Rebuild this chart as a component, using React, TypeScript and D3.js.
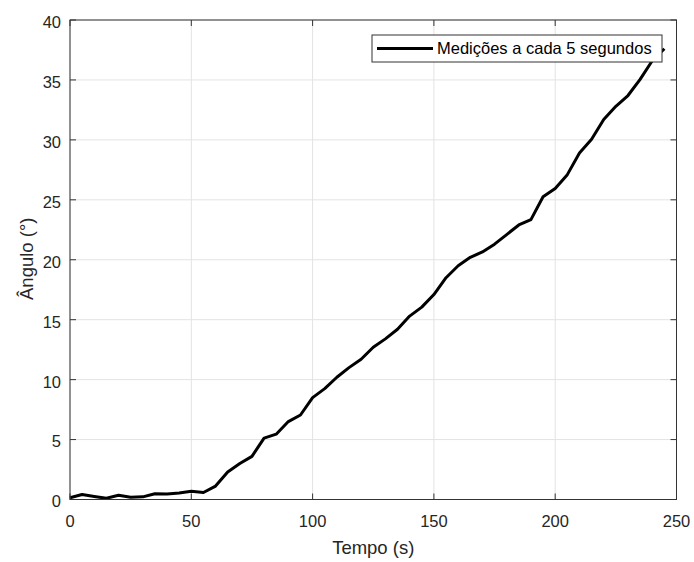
import React from "react";
import * as d3 from "d3";

const times = [0,5,10,15,20,25,30,35,40,45,50,55,60,65,70,75,80,85,90,95,100,105,110,115,120,125,130,135,140,145,150,155,160,165,170,175,180,185,190,195,200,205,210,215,220,225,230,235,240,245];
const angles = [0.15,0.42,0.25,0.1,0.36,0.18,0.22,0.48,0.45,0.55,0.68,0.58,1.12,2.3,3.0,3.6,5.12,5.45,6.5,7.05,8.5,9.25,10.2,11.0,11.7,12.7,13.4,14.2,15.3,16.05,17.1,18.5,19.5,20.2,20.65,21.3,22.1,22.9,23.35,25.25,25.95,27.1,28.9,30.05,31.7,32.8,33.7,35.05,36.6,37.6];
const xTicks = [0,50,100,150,200,250];
const yTicks = [0,5,10,15,20,25,30,35,40];
const seriesName = "Medições a cada 5 segundos";
const xLabel = "Tempo (s)";
const yLabel = "Ângulo (°)";

const W = 694, H = 562;
const L = 70, R = 676.5, T = 20, B = 499.5;
const FONT = "'Liberation Sans', Arial, Helvetica, sans-serif";

export default function App() {
  const x = d3.scaleLinear().domain([0, 250]).range([L, R]);
  const y = d3.scaleLinear().domain([0, 40]).range([B, T]);
  const line = d3.line<number>().x((_, i) => x(times[i])).y((d) => y(d));
  const tk = 6;
  const axisColor = "#333";
  const textColor = "#262626";
  return (
    <svg width={W} height={H} style={{ position: "absolute", left: 0, top: 0, background: "#fff" }} fontFamily={FONT}>
      <rect x={0} y={0} width={W} height={H} fill="#fff" />
      {xTicks.map((t) => (
        <line key={"gx" + t} x1={x(t)} x2={x(t)} y1={T} y2={B} stroke="#e3e3e3" strokeWidth={1} />
      ))}
      {yTicks.map((t) => (
        <line key={"gy" + t} x1={L} x2={R} y1={y(t)} y2={y(t)} stroke="#e3e3e3" strokeWidth={1} />
      ))}
      <path d={line(angles) || ""} fill="none" stroke="#000" strokeWidth={3} strokeLinejoin="round" />
      <rect x={L} y={T} width={R - L} height={B - T} fill="none" stroke={axisColor} strokeWidth={1} />
      {xTicks.map((t) => (
        <g key={"tx" + t}>
          <line x1={x(t)} x2={x(t)} y1={B} y2={B - tk} stroke={axisColor} />
          <line x1={x(t)} x2={x(t)} y1={T} y2={T + tk} stroke={axisColor} />
          <text x={x(t)} y={B + 27} textAnchor="middle" fontSize={16.5} fill={textColor}>{t}</text>
        </g>
      ))}
      {yTicks.map((t) => (
        <g key={"ty" + t}>
          <line x1={L} x2={L + tk} y1={y(t)} y2={y(t)} stroke={axisColor} />
          <line x1={R} x2={R - tk} y1={y(t)} y2={y(t)} stroke={axisColor} />
          <text x={L - 9} y={y(t)} dy="0.48em" textAnchor="end" fontSize={16.5} fill={textColor}>{t}</text>
        </g>
      ))}
      <text x={(L + R) / 2} y={B + 54} textAnchor="middle" fontSize={18.5} fill={textColor}>{xLabel}</text>
      <text transform={`translate(${L - 37},${(T + B) / 2 - 1}) rotate(-90)`} textAnchor="middle" fontSize={18.5} fill={textColor}>{yLabel}</text>
      <g>
        <rect x={372} y={35} width={290} height={27} fill="#fff" stroke={axisColor} strokeWidth={1} />
        <line x1={377} x2={433} y1={48.5} y2={48.5} stroke="#000" strokeWidth={3} />
        <text x={437} y={48.5} dy="0.36em" fontSize={16.5} fill="#000">{seriesName}</text>
      </g>
    </svg>
  );
}
